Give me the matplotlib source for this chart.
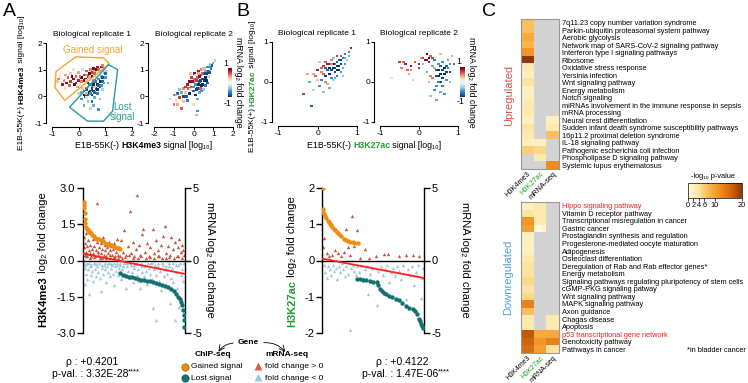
import numpy as np
import matplotlib.pyplot as plt
from matplotlib.colors import LinearSegmentedColormap
from matplotlib.patches import Polygon

plt.rcParams['font.family'] = ['Liberation Sans', 'DejaVu Sans']
plt.rcParams['mathtext.fontset'] = 'custom'
plt.rcParams['mathtext.rm'] = 'Liberation Sans'
plt.rcParams['mathtext.it'] = 'Liberation Sans:italic'
plt.rcParams['mathtext.bf'] = 'Liberation Sans:bold'
plt.rcParams['axes.unicode_minus'] = False

# ---------------- data ----------------
# scatter panels: (x signal, y signal, mRNA log2 fc)
a_rep1 = [(-0.8, 0.55, 0.3), (-0.7, 0.75, 0.2), (-0.6, 0.45, 0.8), (-0.55, 0.6, 0.5), (-0.45, 0.5, 0.9),
          (-0.4, 0.7, 0.6), (-0.3, 0.55, 0.7), (-0.3, 0.85, 0.3), (-0.2, 0.65, 0.9), (-0.15, 0.45, 1.0),
          (-0.1, 0.75, 0.6), (0.0, 0.6, 0.8), (0.0, 0.9, 0.4), (0.1, 0.7, 1.0), (0.1, 0.55, 0.5),
          (0.2, 0.8, 0.7), (0.25, 0.65, 0.9), (0.3, 0.95, 0.6), (0.35, 0.75, 0.8), (0.4, 0.85, 1.0),
          (0.45, 1.0, 0.5), (0.5, 0.9, 0.7), (0.55, 1.05, 0.9), (0.6, 0.95, 0.4), (0.7, 1.1, 0.8),
          (0.75, 1.0, 0.6), (0.85, 1.1, 0.9), (0.9, 1.15, 0.5), (-0.5, 0.3, 0.2), (-0.65, 0.9, 0.1),
          (-0.2, 1.0, 0.2), (0.15, 1.0, -0.2), (0.3, 0.6, 0.3), (-0.05, 0.35, 0.4),
          (-0.75, 0.65, 0.5), (-0.5, 0.8, 0.4), (-0.35, 0.4, 0.6), (-0.25, 0.75, 1.0), (-0.1, 0.5, 0.8),
          (0.05, 0.75, 0.6), (0.05, 0.45, 0.2), (0.2, 0.6, 0.9), (0.3, 0.8, 0.5), (0.4, 0.7, 0.4),
          (0.5, 0.75, 0.9), (0.6, 0.85, 0.6), (0.65, 1.0, 1.0), (0.8, 0.95, 0.3), (0.95, 1.05, 0.6),
          (-0.6, 0.65, 0.1), (-0.4, 0.95, 0.1), (0.2, 1.1, 0.1),
          (0.0, 0.1, -0.3), (0.1, -0.1, -0.6), (0.2, 0.2, -0.8), (0.25, 0.0, -0.9), (0.3, 0.35, -0.5),
          (0.35, -0.2, -0.4), (0.4, 0.15, -1.0), (0.4, 0.45, -0.7), (0.45, 0.25, -0.9), (0.5, 0.05, -1.0),
          (0.5, 0.4, -0.6), (0.55, 0.2, -1.0), (0.6, 0.55, -0.8), (0.6, -0.05, -0.5), (0.65, 0.3, -0.9),
          (0.7, 0.45, -1.0), (0.7, 0.1, -0.7), (0.75, 0.65, -0.6), (0.8, 0.35, -0.9), (0.85, 0.75, -0.5),
          (0.9, 0.55, -0.8), (0.95, 0.9, -0.4), (1.0, 0.7, -0.6), (1.05, 0.95, -0.3), (0.2, -0.35, -0.5),
          (0.45, -0.45, -0.3), (0.8, -0.1, -0.4), (0.3, 0.1, 0.4), (0.55, 0.6, 0.5), (0.15, 0.3, 0.3),
          (0.65, 0.75, 0.2), (0.9, 0.25, -0.3), (1.1, 0.5, -0.5), (0.75, -0.5, -0.6), (0.35, 0.5, -0.9),
          (0.1, 0.15, -0.5), (0.2, 0.05, -1.0), (0.3, 0.25, -0.9), (0.35, 0.05, -0.8), (0.45, 0.1, -0.6),
          (0.5, 0.3, -0.9), (0.55, 0.45, -1.0), (0.6, 0.15, -0.8), (0.65, 0.55, -0.7), (0.7, 0.25, -1.0),
          (0.75, 0.4, -0.8), (0.8, 0.55, -1.0), (0.85, 0.4, -0.6), (0.9, 0.7, -0.9), (0.95, 0.5, -0.5),
          (0.5, -0.2, -0.7), (0.3, -0.05, -0.2), (0.6, 0.35, 0.3), (0.4, 0.3, -0.1), (0.25, 0.4, -0.1),
          (1.0, 0.85, -0.8), (0.55, -0.35, -0.5)]

a_rep2 = [(-1.2, -0.1, -0.3), (-1.0, -0.3, 0.5), (-1.0, 0.05, -0.6), (-0.9, -0.15, 0.2), (-0.8, 0.1, -0.8),
          (-0.7, -0.05, 0.7), (-0.7, 0.25, -0.4), (-0.6, -0.45, 0.6), (-0.5, 0.3, 0.5), (-0.5, 0.0, -0.9),
          (-0.4, 0.15, 0.3), (-0.3, 0.45, 0.8), (-0.3, -0.15, -0.7), (-0.2, 0.55, 0.9), (-0.2, 0.1, -1.0),
          (-0.1, 0.35, 0.6), (-0.1, 0.7, 0.7), (0.0, 0.2, -0.8), (0.0, 0.55, 0.5), (0.05, 0.85, 0.9),
          (0.1, 0.05, -1.0), (0.1, 0.45, -0.6), (0.2, 0.7, 0.6), (0.2, 0.3, -0.9), (0.25, 0.95, 0.8),
          (0.3, 0.55, -0.8), (0.3, 0.15, -0.5), (0.35, 0.8, 0.7), (0.4, 0.4, -1.0), (0.4, 1.0, 0.5),
          (0.45, 0.65, -0.9), (0.5, 0.85, -0.7), (0.5, 0.25, -0.4), (0.55, 1.05, 0.4), (0.6, 0.7, -1.0),
          (0.6, 0.95, -0.5), (0.7, 1.1, -0.6), (0.7, 0.5, -0.8), (0.8, 0.9, -0.9), (0.85, 1.2, -0.4),
          (0.9, 1.05, -0.7), (1.0, 1.25, -0.5), (1.1, 1.35, -0.3), (0.2, -0.55, -0.6), (0.15, -0.7, -0.4),
          (-0.15, 0.85, 0.3), (0.0, -0.3, 0.2), (-0.8, -0.3, 0.4), (0.75, 0.75, 0.3), (0.35, 0.3, 0.6),
          (-0.9, 0.05, 0.4), (-0.6, 0.15, -0.5), (-0.4, 0.35, 0.7), (-0.35, 0.0, -0.8), (-0.25, 0.3, 0.6),
          (-0.05, 0.55, 0.9), (0.0, 0.35, -0.6), (0.05, 0.65, 0.6), (0.15, 0.25, -0.9), (0.15, 0.6, 0.7),
          (0.25, 0.45, -1.0), (0.3, 0.75, 0.9), (0.35, 0.6, -0.9), (0.45, 0.85, 0.6), (0.45, 0.45, -1.0),
          (0.55, 0.6, -1.0), (0.55, 0.85, -0.8), (0.65, 0.85, -0.9), (0.65, 0.6, -1.0), (0.75, 0.95, -0.8),
          (0.8, 1.1, -0.6), (0.95, 1.15, -0.8), (0.4, 0.2, -0.6), (-0.5, -0.2, 0.3), (0.2, -0.1, -0.5),
          (0.5, 1.0, 0.3), (0.25, 0.85, 0.4), (0.6, 0.4, -0.7), (-0.15, 0.25, 0.2), (0.1, 0.8, -0.2)]

b_rep1 = [(-0.35, -0.3, 0.7), (-0.15, -0.6, -0.8), (-0.2, 0.0, -0.5), (-0.1, -0.2, -0.3), (-0.05, 0.15, 0.6),
          (0.0, 0.3, 0.8), (0.05, -0.1, -0.6), (0.1, 0.25, 0.5), (0.1, 0.05, -0.7), (0.15, 0.4, 0.7),
          (0.2, 0.15, -0.9), (0.2, 0.5, 0.6), (0.25, 0.3, -0.8), (0.25, -0.05, 0.4), (0.3, 0.45, -0.9),
          (0.3, 0.2, -1.0), (0.35, 0.55, 0.5), (0.35, 0.1, -0.6), (0.4, 0.35, -1.0), (0.4, 0.6, -0.4),
          (0.45, 0.25, -0.9), (0.45, 0.45, 0.6), (0.5, 0.4, -1.0), (0.5, 0.15, -0.7), (0.55, 0.55, -0.8),
          (0.55, 0.3, -1.0), (0.6, 0.65, -0.6), (0.6, 0.45, -0.9), (0.65, 0.35, -0.5), (0.7, 0.7, -0.7),
          (0.75, 0.55, -0.4), (0.8, 0.75, -0.6), (0.85, 0.85, 0.8), (0.15, -0.25, -0.4), (0.3, -0.15, -0.5),
          (0.05, 0.5, 0.3), (-0.25, 0.2, 0.4), (0.5, 0.65, 0.7), (0.4, 0.05, -0.3), (0.65, 0.15, -0.4),
          (0.1, 0.35, 0.6), (0.2, 0.35, -0.8), (0.3, 0.35, -1.0), (0.35, 0.3, -0.9), (0.4, 0.45, -1.0),
          (0.45, 0.35, -0.9), (0.5, 0.3, -1.0), (0.5, 0.5, -0.8), (0.55, 0.4, -1.0), (0.6, 0.55, -0.9),
          (0.6, 0.25, -0.6), (0.65, 0.6, -0.7), (0.7, 0.45, -0.6), (0.2, 0.0, 0.5), (0.0, 0.05, 0.3),
          (0.15, 0.2, 0.6), (0.25, 0.45, 0.8), (0.35, 0.45, 0.5), (0.7, 0.6, 0.5), (0.8, 0.65, -0.5),
          (-0.1, 0.2, 0.4), (0.45, 0.1, -0.5)]

b_rep2 = [(-0.7, 0.1, 0.2), (-0.5, 0.5, 0.7), (-0.45, 0.35, 0.5), (-0.35, 0.45, 0.8), (-0.3, 0.3, 0.6),
          (-0.25, 0.2, 0.4), (-0.2, 0.4, 0.9), (-0.1, 0.5, 0.6), (0.0, 0.35, 0.7), (0.05, 0.6, 0.5),
          (0.1, 0.45, -0.4), (0.15, 0.55, 0.9), (0.2, 0.7, 1.0), (0.25, 0.5, 0.8), (0.3, 0.65, 0.6),
          (0.35, 0.4, -0.5), (0.4, 0.55, -0.7), (0.45, 0.3, -0.8), (0.5, 0.15, -1.0), (0.5, 0.45, -0.6),
          (0.55, 0.0, -0.9), (0.6, 0.3, -0.9), (0.6, -0.1, -0.7), (0.65, 0.2, -1.0), (0.7, 0.4, -0.8),
          (0.7, 0.05, -0.6), (0.75, 0.55, -0.5), (0.8, 0.25, -0.9), (0.85, 0.65, -0.4), (0.9, 0.45, -0.7),
          (0.4, -0.2, -0.6), (0.3, -0.35, -0.4), (0.35, 0.1, 0.5), (0.25, 0.0, 0.4), (0.45, -0.45, -0.5),
          (-0.15, 0.05, -0.3), (0.55, 0.7, 0.3), (0.2, 0.25, -0.5), (0.65, -0.3, -0.6), (0.8, 0.0, -0.4),
          (-0.4, 0.5, 0.6), (-0.2, 0.3, 0.5), (0.0, 0.45, 0.8), (0.1, 0.6, 0.7), (0.2, 0.55, 0.9),
          (0.25, 0.6, 1.0), (0.35, 0.6, 0.7), (0.45, 0.15, -0.9), (0.5, 0.3, -1.0), (0.55, 0.2, -1.0),
          (0.55, 0.4, -0.8), (0.6, 0.1, -0.9), (0.65, 0.35, -1.0), (0.7, 0.25, -0.9), (0.75, 0.35, -0.7),
          (0.5, 0.0, -0.7), (0.6, 0.5, -0.6), (0.8, 0.45, -0.6), (0.4, 0.35, 0.4), (0.3, 0.15, 0.5),
          (0.45, -0.1, -0.6), (0.55, -0.25, -0.5)]

# gating polygons (rep 1, H3K4me3)
gain_poly = [(-0.85, 0.93), (-0.11, 1.48), (0.93, 1.44), (1.15, 1.22), (-0.52, -0.15), (-0.89, 0.33)]
lost_poly = [(1.12, 1.19), (1.46, 1.0), (1.27, -0.56), (0.93, -0.93), (0.33, -0.93), (-0.34, -0.41)]

# rank plots: gene rank (0-1000) vs ChIP log2 fc
a_gain_rank = [0, 3, 6, 9, 13, 18, 24, 30, 40, 50, 60, 72, 85, 100, 115, 130, 150, 169, 190, 210, 230, 250, 267, 290, 310, 330, 350, 365]
a_gain_val = [2.44, 2.3, 2.16, 1.95, 1.7, 1.55, 1.4, 1.32, 1.25, 1.2, 1.16, 1.12, 1.06, 1.0, 0.95, 0.91, 0.87, 0.84, 0.79, 0.74, 0.7, 0.66, 0.63, 0.59, 0.56, 0.53, 0.51, 0.49]
a_lost_rank = [365, 390, 420, 450, 480, 510, 540, 570, 600, 630, 660, 690, 720, 750, 780, 810, 840, 870, 900, 920, 940, 955, 967, 978, 986, 992, 996, 1000]
a_lost_val = [-0.52, -0.58, -0.63, -0.67, -0.7, -0.73, -0.76, -0.79, -0.81, -0.83, -0.85, -0.88, -0.93, -0.97, -1.01, -1.05, -1.1, -1.17, -1.28, -1.38, -1.5, -1.6, -1.7, -1.85, -2.05, -2.25, -2.45, -2.75]
a_reg = [0.28, -0.55]

# mRNA log2 fc at the same ranks
a_up = [(4, 0.9), (8, 1.6), (12, 0.4), (18, 1.2), (23, 1.9), (28, 0.6), (33, 1.0), (38, 0.3), (44, 1.4), (50, 0.7),
        (56, 2.2), (62, 0.5), (68, 1.1), (75, 0.3), (82, 0.8), (90, 1.5), (97, 0.5), (105, 1.0), (112, 0.3), (120, 0.7),
        (128, 1.3), (137, 4.0), (145, 0.6), (152, 0.9), (160, 0.2), (168, 1.2), (176, 0.5), (184, 0.8), (192, 1.6),
        (200, 0.4), (208, 0.7), (216, 1.1), (224, 0.3), (232, 0.9), (240, 0.5), (250, 1.3), (258, 0.2), (266, 0.7),
        (275, 1.0), (284, 0.4), (293, 0.8), (302, 1.2), (311, 0.3), (320, 0.6), (330, 1.5), (340, 0.4), (350, 0.9),
        (362, 0.3), (375, 1.4), (390, 0.6), (405, 2.1), (420, 0.4), (436, 1.0), (456, 3.4), (470, 0.5), (487, 1.3),
        (503, 0.3), (518, 0.8), (528, 4.5), (545, 1.1), (560, 0.4), (575, 1.8), (593, 2.2), (610, 0.6), (628, 1.2),
        (645, 0.3), (662, 0.9), (684, 2.2), (700, 0.5), (718, 1.4), (735, 0.7), (752, 0.3), (770, 1.1), (788, 1.7),
        (805, 2.4), (822, 0.5), (840, 1.0), (858, 0.4), (870, 1.6), (888, 0.8), (905, 1.3), (922, 0.3), (938, 0.9),
        (951, 1.5), (965, 0.6), (980, 1.1), (995, 0.4),
        (20, 0.3), (60, 0.2), (100, 0.25), (140, 0.35), (180, 0.2), (220, 0.15), (260, 0.35), (300, 0.25),
        (340, 0.2), (380, 0.15), (415, 0.25), (450, 0.35), (495, 0.2), (535, 0.15), (570, 0.3), (615, 0.2),
        (655, 0.25), (695, 0.15), (740, 0.3), (780, 0.2), (815, 0.15), (850, 0.25), (895, 0.2), (935, 0.3),
        (975, 0.2), (990, 0.7)]
a_dn = [(3, -0.3), (9, -1.6), (15, -0.5), (22, -0.9), (30, -0.2), (38, -1.3), (46, -0.6), (55, -2.3), (62, -0.4),
        (70, -1.0), (78, -0.3), (86, -0.7), (95, -1.4), (104, -0.2), (112, -0.6), (120, -1.1), (130, -0.4), (140, -0.8),
        (150, -0.2), (160, -1.2), (170, -2.1), (180, -0.5), (190, -0.9), (200, -0.3), (210, -0.6), (220, -1.5),
        (230, -0.4), (240, -0.8), (250, -0.2), (260, -1.1), (270, -0.5), (280, -0.3), (290, -0.9), (300, -1.7),
        (310, -0.4), (320, -0.7), (330, -0.2), (340, -1.0), (350, -0.5), (360, -0.3), (372, -1.3), (384, -0.6),
        (396, -0.2), (408, -0.9), (420, -1.9), (432, -0.4), (444, -0.7), (456, -1.2), (468, -0.3), (480, -0.8),
        (492, -1.5), (504, -0.5), (516, -0.2), (528, -1.0), (540, -0.6), (552, -1.4), (560, -1.9), (572, -0.4),
        (584, -0.8), (596, -1.1), (608, -0.3), (620, -0.7), (632, -1.6), (644, -0.5), (656, -0.9), (668, -0.2),
        (680, -1.3), (690, -3.3), (702, -0.6), (714, -1.0), (723, -4.1), (735, -0.4), (747, -1.4), (759, -0.7),
        (771, -2.0), (783, -0.3), (795, -1.1), (807, -0.6), (819, -1.7), (831, -0.9), (843, -0.4), (853, -2.9),
        (865, -1.2), (877, -0.5), (889, -1.5), (902, -4.1), (914, -0.8), (926, -1.9), (938, -0.3), (950, -3.2),
        (962, -1.0), (974, -0.6), (986, -1.4), (996, -0.2),
        (6, -0.15), (26, -0.25), (50, -0.15), (74, -0.3), (100, -0.15), (125, -0.25), (155, -0.15), (185, -0.3),
        (215, -0.2), (245, -0.15), (275, -0.25), (305, -0.15), (335, -0.3), (365, -0.15), (390, -0.35),
        (426, -0.2), (462, -0.15), (498, -0.3), (534, -0.2), (566, -0.15), (602, -0.35), (638, -0.2),
        (674, -0.15), (708, -0.3), (741, -0.2), (777, -0.15), (813, -0.35), (849, -0.2), (883, -0.15),
        (920, -0.3), (956, -0.2), (992, -0.15)]

b_gain_rank = [0, 4, 8, 16, 25, 35, 49, 60, 70, 81, 95, 110, 125, 146, 165, 185, 211, 235, 255, 276, 300, 325, 350]
b_gain_val = [2.0, 1.42, 1.35, 1.28, 1.22, 1.16, 1.1, 1.05, 1.01, 0.97, 0.92, 0.87, 0.83, 0.79, 0.74, 0.68, 0.6, 0.56, 0.53, 0.5, 0.5, 0.49, 0.48]
b_lost_rank = [341, 370, 400, 430, 470, 500, 536, 550, 568, 590, 610, 633, 660, 690, 730, 760, 790, 828, 860, 893, 915, 940, 958, 970, 980, 990, 1000]
b_lost_val = [-0.51, -0.52, -0.53, -0.55, -0.56, -0.58, -0.6, -0.68, -0.79, -0.85, -0.9, -0.93, -0.97, -1.01, -1.06, -1.1, -1.17, -1.25, -1.3, -1.34, -1.4, -1.48, -1.62, -1.68, -1.74, -1.8, -1.85]
b_reg = [0.05, -0.48]
b_up = [(5, 0.9), (16, 1.56), (40, 0.5), (65, 0.3), (95, 0.4), (120, 0.7), (150, 0.5), (185, 0.3), (210, 0.6),
        (237, 2.2), (255, 0.9), (275, 0.4), (292, 3.1), (310, 1.0), (341, 2.1), (370, 0.2), (422, 0.8), (460, 0.2),
        (530, 0.3), (607, 0.47), (650, 0.45), (760, 0.3), (830, 0.4), (900, 0.35), (960, 0.3)]
b_dn = [(10, -0.3), (25, -0.8), (40, -1.2), (55, -0.4), (70, -0.6), (85, -1.0), (100, -0.3), (115, -0.7), (130, -0.5),
        (145, -1.3), (160, -0.4), (175, -0.8), (190, -0.2), (205, -0.6), (220, -1.1), (235, -0.4), (250, -0.9),
        (270, -4.77), (285, -0.5), (300, -0.3), (315, -0.7), (330, -1.0), (345, -0.4), (360, -0.8), (380, -0.3),
        (400, -1.2), (420, -0.6), (440, -0.4), (455, -2.3), (470, -0.9), (490, -0.5), (510, -1.4), (536, -3.1),
        (550, -0.7), (565, -1.9), (580, -0.4), (600, -1.0), (620, -0.6), (640, -0.3), (660, -1.5), (680, -0.8),
        (700, -0.5), (720, -1.1), (740, -0.4), (760, -0.7), (780, -1.3), (800, -0.3), (828, -2.67), (850, -0.6),
        (870, -1.0), (890, -0.4), (910, -1.7), (930, -0.8), (950, -0.3), (974, -2.56), (985, -1.2), (995, -0.5)]

# pathway enrichment (-log10 p), nan = not enriched
up_rows = ['7q11.23 copy number variation syndrome', 'Parkin-ubiquitin proteasomal system pathway', 'Aerobic glycolysis',
           'Network map of SARS-CoV-2 signaling pathway', 'Interferon type I signaling pathways', 'Ribosome',
           'Oxidative stress response', 'Yersinia infection', 'Wnt signaling pathway', 'Energy metabolism',
           'Notch signaling', 'miRNAs involvement in the immune response in sepsis', 'mRNA processing',
           'Neural crest differentiation', 'Sudden infant death syndrome susceptibility pathways',
           '16p11.2 proximal deletion syndrome', 'IL-18 signaling pathway',
           'Pathogenic escherichia coli infection', 'Phospholipase D signaling pathway',
           'Systemic lupus erythematosus']
nan = np.nan
up_k4 = [7, 7, 9, 8, 11, 20, 3, 2, 4, 2, 2, 3, 3, 2, 4, 3, 2, 6, nan, nan]
up_k27 = [nan] * 16 + [2, 5, 3, nan]
up_rna = [nan] * 13 + [2, 3, 7, nan, nan, nan, 12]

dn_rows = ['Hippo signaling pathway', 'Vitamin D receptor pathway', 'Transcriptional misregulation in cancer',
           'Gastric cancer', 'Prostaglandin synthesis and regulation', 'Progesterone-mediated oocyte maturation',
           'Adipogenesis', 'Osteoclast differentiation', 'Deregulation of Rab and Rab effector genes*',
           'Energy metabolism', 'Signaling pathways regulating pluripotency of stem cells', 'cGMP-PKG signaling patway',
           'Wnt signaling pathway', 'MAPK signaling pathway', 'Axon guidance', 'Chagas disease', 'Apoptosis',
           'p53 transcriptional gene network', 'Genotoxicity pathway', 'Pathways in cancer']
dn_k4 = [2, 4, 11, 10, 2, 2, 2, 3, 4, 4, 5, 4, 5, 13, 7, 3, 3, 17, 16, 15]
dn_k27 = [3, 3, 3, 1] + [nan] * 13 + [9, 11, 10]
dn_rna = [nan] * 15 + [3, 3, 9, 13, 4]
heat_cols = ['H3K4me3', 'H3K27ac', 'mRNA-seq']

# ---------------- figure ----------------
W, H = 748, 383
fig = plt.figure(figsize=(W / 100, H / 100), dpi=100)

ORANGE = '#ee8c10'
TEAL = '#127170'
RED_T = '#c8553e'
BLUE_T = '#a3c6d8'
GREEN = '#1f9e2a'


def px(x0, y0, x1, y1):
    return fig.add_axes([x0 / W, 1 - y1 / H, (x1 - x0) / W, (y1 - y0) / H])


def scatter_panel(box, pts, xlim, ylim, xt, yt, title):
    ax = px(*box)
    arr = np.array(pts)
    sc = ax.scatter(arr[:, 0], arr[:, 1], c=arr[:, 2], cmap='RdBu_r', vmin=-1, vmax=1,
                    s=3, marker='s', linewidths=0)
    ax.set_xlim(xlim)
    ax.set_ylim(ylim)
    ax.set_xticks(xt)
    ax.set_yticks(yt)
    ax.spines[['top', 'right']].set_visible(False)
    ax.spines['left'].set_position(('outward', 4))
    ax.spines['bottom'].set_position(('outward', 3))
    ax.spines[['left', 'bottom']].set_linewidth(0.8)
    ax.tick_params(labelsize=6, length=2, width=0.7, pad=1)
    ax.set_title(title, fontsize=6, pad=5)
    ax.patch.set_alpha(0)
    return ax, sc


ax1, sc = scatter_panel((52, 43, 132, 123), a_rep1, (-1, 2), (-1, 2), [-1, 0, 1, 2], [-1, 0, 1, 2],
                        'Biological replicate 1')
ax1.add_patch(Polygon(gain_poly, closed=True, fill=False, ec='#f5a52c', lw=1, clip_on=False))
ax1.add_patch(Polygon(lost_poly, closed=True, fill=False, ec='#2a9d9a', lw=1, clip_on=False))
ax1.text(0.52, 1.72, 'Gained signal', color='#f5a52c', fontsize=7, ha='center', va='center')
ax1.text(1.65, -0.6, 'Lost\nsignal', color='#2a9d9a', fontsize=7, ha='center', va='center', linespacing=1.0)
scatter_panel((154, 43, 233, 123), a_rep2, (-2, 2), (-1, 2), [-2, -1, 0, 1, 2], [-1, 0, 1, 2],
              'Biological replicate 2')
scatter_panel((278, 42, 357, 122), b_rep1, (-1, 1), (-1, 1), [-1, 0, 1], [-1, 0, 1], 'Biological replicate 1')
scatter_panel((380, 42, 458, 122), b_rep2, (-1, 1), (-1, 1), [-1, 0, 1], [-1, 0, 1], 'Biological replicate 2')

for box in [(228, 68, 232, 97), (460, 67, 465, 97)]:
    cax = px(*box)
    cb = fig.colorbar(sc, cax=cax)
    cb.set_ticks([])
    cb.outline.set_visible(False)


def rank_panel(box, g_r, g_v, l_r, l_v, up, dn, reg, ylim, yticks, ylabels):
    ax = px(*box)
    ax2 = ax.twinx()
    ax2.set_ylim(-5, 5)
    ax2.axhline(0, color='black', lw=1, zorder=1)
    u = np.array(up)
    d = np.array(dn)
    ax2.scatter(u[:, 0], u[:, 1], marker='^', s=6, color=RED_T, linewidths=0, zorder=2)
    ax2.scatter(d[:, 0], d[:, 1], marker='^', s=6, color=BLUE_T, linewidths=0, zorder=2)
    ax.set_zorder(ax2.get_zorder() + 1)
    ax.patch.set_visible(False)
    ax.scatter(g_r, g_v, s=10, color=ORANGE, linewidths=0, zorder=3)
    ax.scatter(l_r, l_v, s=10, color=TEAL, linewidths=0, zorder=3)
    ax.plot([0, 1000], reg, color='#ff1f1f', lw=1.3, zorder=4)
    ax.set_xlim(-6, 1006)
    ax2.set_xlim(-6, 1006)
    ax.set_ylim(ylim)
    ax.set_yticks(yticks)
    ax.set_yticklabels(ylabels)
    ax2.set_yticks([-5, 0, 5])
    ax.set_xticks([])
    for a in (ax, ax2):
        a.spines[['top', 'bottom']].set_visible(False)
        a.tick_params(labelsize=8, length=4, width=1, pad=1.5)
    ax.spines['right'].set_visible(False)
    ax.spines['left'].set_linewidth(1)
    ax2.spines['left'].set_visible(False)
    ax2.spines['right'].set_linewidth(1)
    return ax


rank_panel((83, 188, 185, 333), a_gain_rank, a_gain_val, a_lost_rank, a_lost_val, a_up, a_dn, a_reg,
           (-3, 3), [-3, -1.5, 0, 1.5, 3], ['-3.0', '-1.5', '0.0', '1.5', '3.0'])
rank_panel((322, 188, 424, 333), b_gain_rank, b_gain_val, b_lost_rank, b_lost_val, b_up, b_dn, b_reg,
           (-2, 2), [-2, -1, 0, 1, 2], ['-2', '-1', '0', '1', '2'])

# heatmaps
cmap = LinearSegmentedColormap.from_list('pv', ['#fffbe2', '#fde3a0', '#f9b44a', '#f08c1e', '#d0650e', '#8f360a'])
cmap.set_bad('#d3d3d3')


def heat(box, rows, k4, k27, rna, red_rows, xfont):
    ax = px(*box)
    data = np.ma.masked_invalid(np.column_stack([k4, k27, rna]))
    im = ax.imshow(data, cmap=cmap, vmin=0, vmax=20, aspect='auto', interpolation='nearest')
    ax.yaxis.tick_right()
    ax.set_yticks(range(len(rows)))
    ax.set_yticklabels(rows, fontsize=5.3)
    ax.set_xticks(range(3))
    ax.set_xticklabels(heat_cols, rotation=45, ha='right', rotation_mode='anchor', fontsize=xfont)
    ax.get_xticklabels()[1].set_color(GREEN)
    for i in red_rows:
        ax.get_yticklabels()[i].set_color('#ee2222')
    ax.tick_params(length=0, pad=2)
    ax.tick_params(axis='x', pad=1)
    for s in ax.spines.values():
        s.set_color('#999999')
        s.set_linewidth(0.8)
    return im


im = heat((521, 19, 559, 169), up_rows, up_k4, up_k27, up_rna, [], 5.3)
heat((521, 202, 559, 353), dn_rows, dn_k4, dn_k27, dn_rna, [0, 17], 5.0)
cax = px(688, 183, 742, 198)
cb = fig.colorbar(im, cax=cax, orientation='horizontal', ticks=[0, 2, 4, 6, 10, 20])
cb.ax.tick_params(labelsize=5.3, length=2, width=0.5, pad=1)
cb.outline.set_linewidth(0.5)

# ---------------- overlay texts ----------------
ov = fig.add_axes([0, 0, 1, 1])
ov.set_xlim(0, W)
ov.set_ylim(H, 0)
ov.axis('off')


def chain(x, y, parts, size, vertical=False):
    s, c, w = parts[0]
    if vertical:
        t = ov.text(x, y, s, color=c, fontweight=w, fontsize=size, rotation=90, ha='center', va='bottom')
        for s, c, w in parts[1:]:
            t = ov.annotate(s, xy=(0, 1), xycoords=t, color=c, fontweight=w, fontsize=size,
                            rotation=90, ha='left', va='bottom')
    else:
        t = ov.text(x, y, s, color=c, fontweight=w, fontsize=size, ha='left', va='center')
        for s, c, w in parts[1:]:
            t = ov.annotate(s, xy=(1, 0), xycoords=t, color=c, fontweight=w, fontsize=size,
                            ha='left', va='bottom')


for letter, x in [('A', 3), ('B', 236), ('C', 482)]:
    ov.text(x, 12, letter, fontsize=14, va='center')

chain(75, 145, [('E1B-55K(-) ', 'k', 'normal'), ('H3K4me3', 'k', 'bold'), (' signal [log₁₀]', 'k', 'normal')], 6.3)
chain(22, 150, [('E1B-55K(+) ', 'k', 'normal'), ('H3K4me3', 'k', 'bold'), (' signal [log₁₀]', 'k', 'normal')], 6.0,
      vertical=True)
chain(307, 145, [('E1B-55K(-) ', 'k', 'normal'), ('H3K27ac', GREEN, 'bold'), (' signal [log₁₀]', 'k', 'normal')], 6.3)
chain(253, 152, [('E1B-55K(+) ', 'k', 'normal'), ('H3K27ac', GREEN, 'bold'), (' signal [log₁₀]', 'k', 'normal')], 6.0,
      vertical=True)

for x, y1, y2, xl in [(239, 63, 103, 226), (472, 62, 102, 459)]:
    ov.text(x, 82, 'mRNA log₂ fold change', rotation=-90, fontsize=6.3, ha='center', va='center')
    ov.text(xl, y1, '1', fontsize=6.3, ha='center', va='center')
    ov.text(xl + 2, y2, '-1', fontsize=6.3, ha='center', va='center')

chain(43, 327, [('H3K4me3', 'k', 'bold'), (' log₂ fold change', 'k', 'normal')], 8, vertical=True)
chain(292, 327, [('H3K27ac', GREEN, 'bold'), (' log₂ fold change', 'k', 'normal')], 8, vertical=True)
for x in (210, 465):
    ov.text(x, 260, 'mRNA log₂ fold change', rotation=-90, fontsize=8, ha='center', va='center')

for xc, rho, pv in [(92, '+0.4201', '3.32E-28'), (402, '+0.4122', '1.47E-06')]:
    ov.text(xc, 362, 'ρ : ' + rho, fontsize=7.5, ha='center', va='center')
    t = ov.text(xc - 2, 374, 'p-val. : ' + pv, fontsize=7.5, ha='center', va='center')
    ov.annotate('****', xy=(1, 0.75), xycoords=t, fontsize=5.5, ha='left', va='center')

# legend
ov.text(248, 343, 'Gene', fontsize=6, fontweight='bold', ha='center', va='center')
ov.annotate('', xy=(217, 354), xytext=(236, 343),
            arrowprops=dict(arrowstyle='->', connectionstyle='arc3,rad=0.3', lw=0.6, color='k'))
ov.annotate('', xy=(287, 354), xytext=(261, 343),
            arrowprops=dict(arrowstyle='->', connectionstyle='arc3,rad=-0.3', lw=0.6, color='k'))
ov.text(195, 355, 'ChIP-seq', fontsize=6, fontweight='bold', va='center')
ov.text(265, 355, 'mRNA-seq', fontsize=6, fontweight='bold', va='center')
ov.scatter([185], [367], s=28, color=ORANGE, edgecolors='#8a5000', linewidths=0.4)
ov.scatter([185], [378], s=28, color=TEAL, edgecolors='#0b4040', linewidths=0.4)
ov.scatter([258], [366], s=32, marker='^', color='#d9594a', linewidths=0)
ov.scatter([258], [377], s=32, marker='^', color=BLUE_T, linewidths=0)
ov.text(191, 367, 'Gained signal', fontsize=6, va='center')
ov.text(191, 378, 'Lost signal', fontsize=6, va='center')
ov.text(265, 367, 'fold change > 0', fontsize=6, va='center')
ov.text(265, 378, 'fold change < 0', fontsize=6, va='center')

# heatmap side labels
ov.text(509, 95, 'Upregulated', rotation=90, fontsize=8, color='#d9534f', ha='center', va='center')
ov.text(508, 277, 'Downregulated', rotation=90, fontsize=8, color='#4f9fd6', ha='center', va='center')
ov.text(713, 177, '-log₁₀ p-value', fontsize=5.3, ha='center', va='center')
ov.text(687, 350, '*in bladder cancer', fontsize=5.3, va='center')

fig.savefig('out.png', dpi=100)
